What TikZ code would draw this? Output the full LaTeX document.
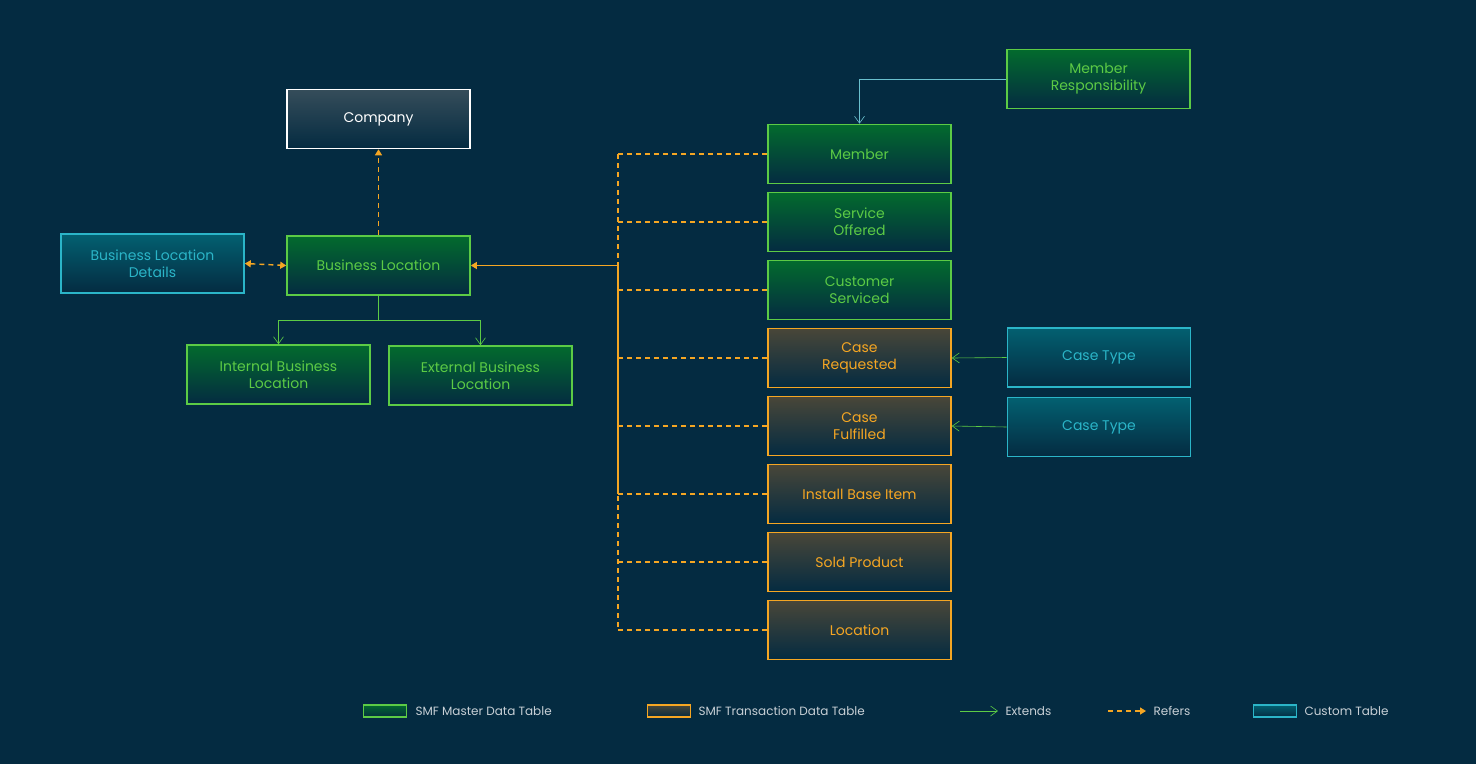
\documentclass[tikz,border=0pt]{standalone}
\usepackage{fontspec}
\setmainfont{Poppins}
\usetikzlibrary{arrows.meta}
\definecolor{bg}{HTML}{042B41}
\definecolor{grn}{HTML}{5CCB45}
\definecolor{org}{HTML}{F5A623}
\definecolor{cyn}{HTML}{2BB5C8}
\definecolor{lgt}{HTML}{C8D0D6}
\begin{document}
\begin{tikzpicture}[x=1pt,y=-1pt,
  box/.style={draw, line width=1.6pt, minimum width=183pt, minimum height=59pt, align=center, inner sep=0pt, font=\fontsize{14}{17}\selectfont},
  gb/.style={box, draw=grn, text=grn, top color=green!30!bg, bottom color=bg},
  ob/.style={box, draw=org, text=org, top color=orange!25!bg!90!gray, bottom color=bg},
  cb/.style={box, draw=cyn, text=cyn, top color=cyan!25!bg, bottom color=bg},
  wb/.style={box, draw=white, text=white, top color=gray!40!bg, bottom color=bg},
  refd/.style={org, line width=1.4pt, dash pattern=on 5pt off 4pt},
  refa/.style={refd, -{Triangle[length=6pt,width=7pt]}},
  ext/.style={grn, line width=0.6pt, -{Straight Barb[length=7pt,width=10pt]}},
  leg/.style={text=lgt, anchor=west, font=\fontsize{12}{14}\selectfont}]
\fill[bg] (0,0) rectangle (1476,764);
\useasboundingbox (0,0) rectangle (1476,764);
\node[wb] (co) at (378.5,119) {Company};
\node[gb] (bl) at (378.5,265.5) {Business Location};
\node[cb] (bld) at (152.5,263.5) {Business Location\\Details};
\node[gb] (ibl) at (278.5,374.5) {Internal Business\\Location};
\node[gb] (ebl) at (480.5,375.5) {External Business\\Location};
\node[gb] (m) at (859.5,154) {Member};
\node[gb] (so) at (859.5,222) {Service\\Offered};
\node[gb] (cs) at (859.5,290) {Customer\\Serviced};
\node[ob] (cr) at (859.5,358) {Case\\Requested};
\node[ob] (cf) at (859.5,426) {Case\\Fulfilled};
\node[ob] (ib) at (859.5,494) {Install Base Item};
\node[ob] (sp) at (859.5,562) {Sold Product};
\node[ob] (lo) at (859.5,630) {Location};
\node[gb] (mr) at (1098.5,79) {Member\\Responsibility};
\node[cb] (ct1) at (1099,357.5) {Case Type};
\node[cb] (ct2) at (1099,427) {Case Type};
% refs
\draw[refa] (bl.north) -- (co.south);
\draw[refa, {Triangle[length=6pt,width=7pt]}-{Triangle[length=6pt,width=7pt]}] (bld.east) -- (bl.west);
\coordinate (bt) at (618,154);
\coordinate (bb) at (618,630);
\coordinate (bj) at (618,265.5);
\coordinate (bs) at (618,494);
\draw[refd] (bt) -- (bb);
\draw[org, line width=1.4pt] (bj) -- (bs);
\draw[org, line width=1.4pt, -{Triangle[length=6pt,width=7pt]}] (bj) -- (bl.east);
\foreach \n in {m,so,cs,cr,cf,ib,sp,lo} \draw[refd] (\n.west) -- (618,0 |- \n.west);
% extends
\coordinate (bd) at (378.5,320);
\draw[grn, line width=0.8pt] (bl.south) -- (bd);
\draw[ext] (bd) -| (ibl.north);
\draw[ext] (bd) -| (ebl.north);
\draw[ext, draw=cyn!60!lgt] (mr.west) -| (m.north);
\draw[ext] (ct1.west) -- (cr.east);
\draw[ext] (ct2.west) -- (cf.east);
% legend
\node[draw=grn, line width=1.6pt, minimum width=43pt, minimum height=12pt, inner sep=0pt, top color=green!30!bg, bottom color=bg] (l1) at (385,711) {};
\node[leg] (t1) at (412,711) {SMF Master Data Table};
\node[draw=org, line width=1.6pt, minimum width=43pt, minimum height=12pt, inner sep=0pt, top color=orange!25!bg!90!gray, bottom color=bg] (l2) at (669,711) {};
\node[leg] (t2) at (695,711) {SMF Transaction Data Table};
\coordinate (e1) at (960,711);
\coordinate (e2) at (998,711);
\draw[ext] (e1) -- (e2);
\node[leg] (t3) at (1002,711) {Extends};
\coordinate (r1) at (1108,711);
\coordinate (r2) at (1146,711);
\draw[refa] (r1) -- (r2);
\node[leg] (t4) at (1150,711) {Refers};
\node[draw=cyn, line width=1.6pt, minimum width=43pt, minimum height=12pt, inner sep=0pt, top color=cyan!25!bg, bottom color=bg] (l5) at (1275,711) {};
\node[leg] (t5) at (1301,711) {Custom Table};
\end{tikzpicture}
\end{document}
